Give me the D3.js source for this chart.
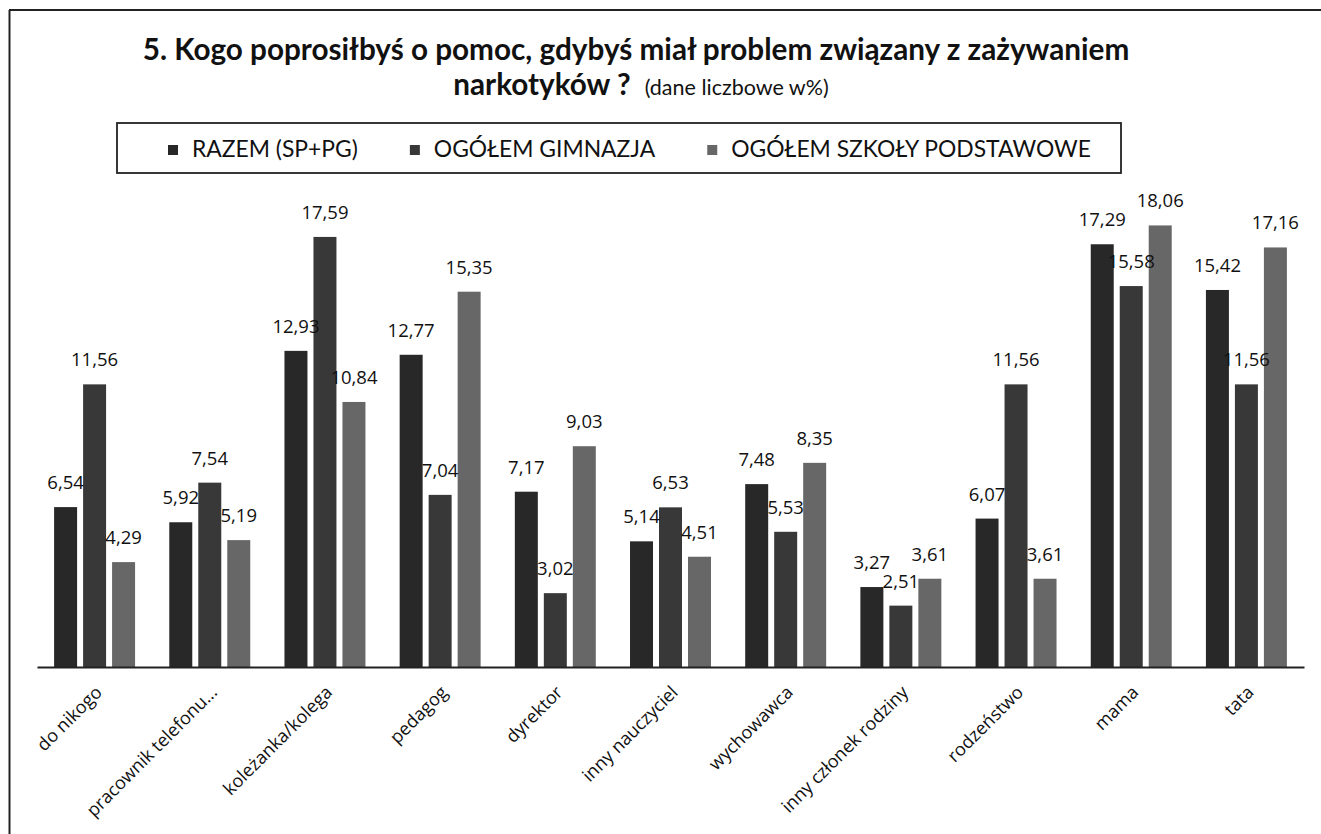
<!DOCTYPE html>
<html>
<head>
<meta charset="utf-8">
<script src="https://cdn.jsdelivr.net/npm/d3@7"></script>
<style>
  body { margin: 0; background: #fff; }
  svg { display: block; font-family: Lato, "Open Sans", sans-serif; }
</style>
</head>
<body>
<svg width="1321" height="834"></svg>
<script>
// categories and series (values in %)
var categories = ["do nikogo", "pracownik telefonu...", "koleżanka/kolega", "pedagog", "dyrektor",
    "inny nauczyciel", "wychowawca", "inny członek rodziny", "rodzeństwo", "mama", "tata"];
var seriesNames = ["RAZEM (SP+PG)", "OGÓŁEM GIMNAZJA", "OGÓŁEM SZKOŁY PODSTAWOWE"];
var razem     = [6.54, 5.92, 12.93, 12.77, 7.17, 5.14, 7.48, 3.27, 6.07, 17.29, 15.42];
var gimnazja  = [11.56, 7.54, 17.59, 7.04, 3.02, 6.53, 5.53, 2.51, 11.56, 15.58, 11.56];
var podstawowe = [4.29, 5.19, 10.84, 15.35, 9.03, 4.51, 8.35, 3.61, 3.61, 18.06, 17.16];
var seriesValues = [razem, gimnazja, podstawowe];
var colors = ["#282828", "#383838", "#676767"];

var svg = d3.select("svg");

// fit a text element to a given width by scaling its font-size
function fitWidth(sel, w) {
    var fs = parseFloat(sel.style("font-size"));
    var len = sel.node().getComputedTextLength();
    sel.style("font-size", (fs * w / len) + "px");
}

// page frame (scanned page edge)
svg.append("line").attr("x1", 9).attr("y1", 10).attr("x2", 1321).attr("y2", 10)
    .attr("stroke", "#222").attr("stroke-width", 2);
svg.append("line").attr("x1", 9.5).attr("y1", 10).attr("x2", 9.5).attr("y2", 834)
    .attr("stroke", "#222").attr("stroke-width", 2);

// **** title ****
var t1 = svg.append("text")
    .attr("x", 636).attr("y", 60)
    .attr("text-anchor", "middle")
    .style("font-weight", "bold").style("font-size", "24px").style("fill", "#111")
    .text("5. Kogo poprosiłbyś o pomoc, gdybyś miał problem związany z zażywaniem");
fitWidth(t1, 987);

var t2 = svg.append("text")
    .attr("x", 641).attr("y", 95)
    .attr("text-anchor", "middle")
    .style("fill", "#111");
t2.append("tspan").style("font-weight", "bold").style("font-size", t1.style("font-size"))
    .text("narkotyków ?");
t2.append("tspan").attr("dx", 14).style("font-size", "21.5px")
    .text("(dane liczbowe w%)");

// **** legend ****
svg.append("rect")
    .attr("x", 117).attr("y", 123).attr("width", 1004).attr("height", 50)
    .attr("fill", "none").attr("stroke", "#222").attr("stroke-width", 1.8);

var legend = svg.append("g");
var lx = 168;
seriesNames.forEach(function(name, i) {
    legend.append("rect")
        .attr("x", lx).attr("y", 145).attr("width", 10).attr("height", 10)
        .attr("fill", colors[i]);
    var lt = legend.append("text")
        .attr("x", lx + 24).attr("y", 157)
        .style("font-size", "20px").style("fill", "#111")
        .text(name);
    if (i === 0) fitWidth(lt, 166);
    else lt.style("font-size", legend.select("text").style("font-size"));
    lx = lx + 24 + lt.node().getComputedTextLength() + 52;
});

// **** scales ****
var x0 = d3.scaleBand()
    .domain(categories)
    .range([37, 1304])
    .paddingInner(0.297)
    .paddingOuter(0.1485);

var x1 = d3.scaleBand()
    .domain(d3.range(seriesNames.length))
    .range([0, x0.bandwidth()])
    .paddingInner(0.207);

var y = d3.scaleLinear()
    .domain([0, 20])
    .range([667, 178]);

var fmt = d3.formatLocale({ decimal: ",", thousands: " ", grouping: [3], currency: ["", " zł"] }).format(".2f");

// **** bars ****
var groups = svg.selectAll("g.cat")
    .data(categories)
    .enter()
    .append("g")
    .attr("class", "cat")
    .attr("transform", function(d) { return "translate(" + x0(d) + ",0)"; });

groups.selectAll("rect")
    .data(function(d, i) { return seriesValues.map(function(s, j) { return { s: j, v: s[i] }; }); })
    .enter()
    .append("rect")
    .attr("x", function(d) { return x1(d.s); })
    .attr("y", function(d) { return y(d.v); })
    .attr("width", x1.bandwidth())
    .attr("height", function(d) { return y(0) - y(d.v); })
    .attr("fill", function(d) { return colors[d.s]; });

groups.selectAll("text.val")
    .data(function(d, i) { return seriesValues.map(function(s, j) { return { s: j, v: s[i] }; }); })
    .enter()
    .append("text")
    .attr("class", "val")
    .attr("x", function(d) { return x1(d.s) + x1.bandwidth() / 2; })
    .attr("y", function(d) { return y(d.v) - 18; })
    .attr("text-anchor", "middle")
    .style("font-family", "'Open Sans', sans-serif")
    .style("font-size", "18.5px").style("fill", "#111")
    .text(function(d) { return fmt(d.v); });

// **** x axis ****
var xAxis = svg.append("g")
    .attr("class", "x axis")
    .attr("transform", "translate(0,667)")
    .call(d3.axisBottom(x0).tickSize(0).tickSizeOuter(0));

xAxis.select(".domain").attr("stroke", "#222").attr("stroke-width", 2);

xAxis.selectAll(".tick text")
    .attr("text-anchor", "end")
    .attr("transform", "translate(4,22) rotate(-45)")
    .attr("dy", "0.35em")
    .attr("y", 0)
    .style("font-family", "'Open Sans', sans-serif")
    .style("font-size", "18px")
    .style("fill", "#111");
</script>
</body>
</html>
